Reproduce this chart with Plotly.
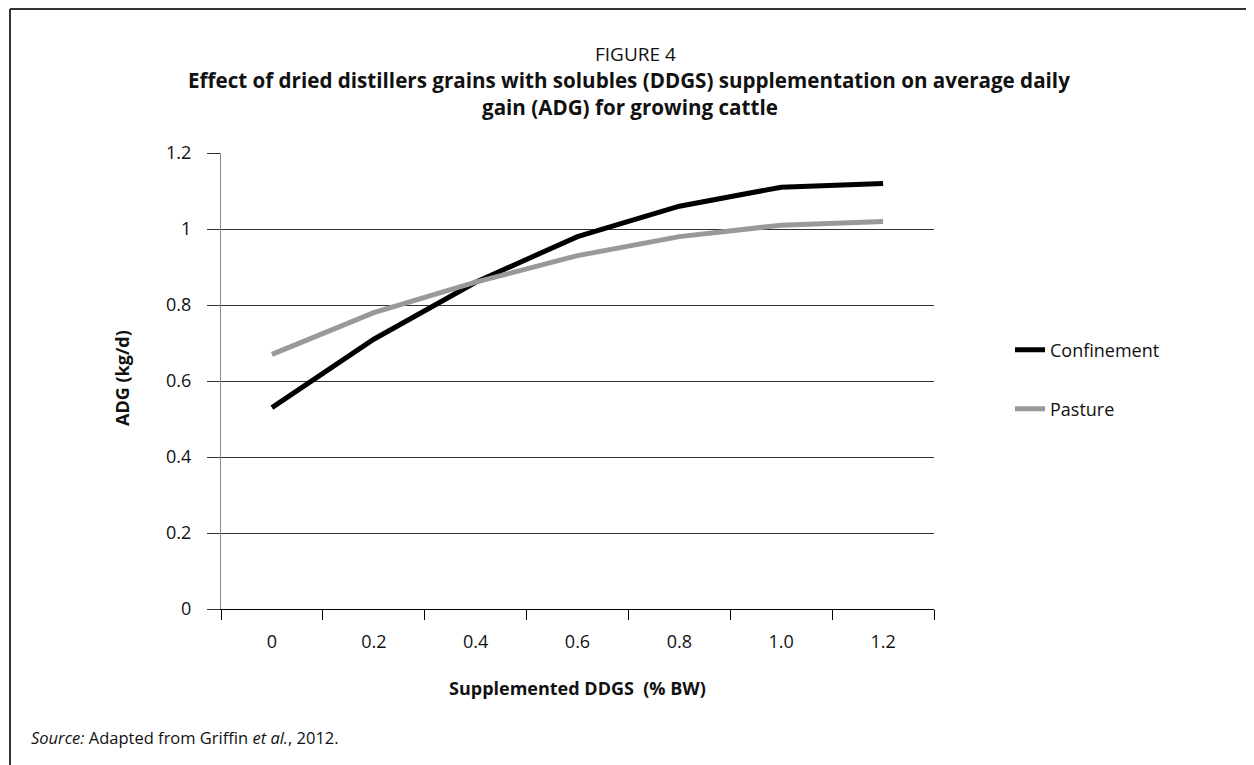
import plotly.graph_objects as go

categories = ["0", "0.2", "0.4", "0.6", "0.8", "1.0", "1.2"]
confinement = [0.53, 0.71, 0.86, 0.98, 1.06, 1.11, 1.12]
pasture = [0.67, 0.78, 0.86, 0.93, 0.98, 1.01, 1.02]
y_ticks = [0, 0.2, 0.4, 0.6, 0.8, 1.0, 1.2]
y_ticklabels = ["0", "0.2", "0.4", "0.6", "0.8", "1", "1.2"]

FONT = "Open Sans"

# page body margin offset (8px) compensated
OFF = 8
W, H = 1254 - OFF, 765 - OFF
# plot area in page pixels
X0, X1, Y0, Y1 = 221, 934, 153, 609
L, T = X0 - OFF, Y0 - OFF
R, B = (1254 - OFF) - (X1 - OFF), (765 - OFF) - (Y1 - OFF)


def px(x):
    return (x - X0) / (X1 - X0)


def py(y):
    return (Y1 - y) / (Y1 - Y0)


fig = go.Figure()
fig.add_trace(go.Scatter(
    x=categories, y=confinement, mode="lines", name="Confinement",
    line=dict(color="#000000", width=5), legend="legend",
))
fig.add_trace(go.Scatter(
    x=categories, y=pasture, mode="lines", name="Pasture",
    line=dict(color="#999999", width=5), legend="legend2",
))

fig.update_layout(
    width=W, height=H,
    margin=dict(l=L, r=R, t=T, b=B),
    paper_bgcolor="white", plot_bgcolor="white",
    font=dict(family=FONT, size=18, color="#111111"),
    showlegend=True,
    legend=dict(x=px(1010), y=py(350), xanchor="left", yanchor="middle",
                font=dict(size=18, family=FONT), bgcolor="rgba(0,0,0,0)"),
    legend2=dict(x=px(1010), y=py(409), xanchor="left", yanchor="middle",
                 font=dict(size=18, family=FONT), bgcolor="rgba(0,0,0,0)"),
    xaxis=dict(
        type="category", range=[-0.5, 6.5], tickson="boundaries", ticks="outside", ticklen=10,
        tickcolor="#000000", showline=True, linecolor="#000000", linewidth=1,
        showgrid=False, zeroline=False, tickfont=dict(size=18, family=FONT),
        ticklabelstandoff=16,
    ),
    yaxis=dict(
        range=[0, 1.2], tickvals=y_ticks, ticktext=y_ticklabels,
        ticks="outside", ticklen=13, tickcolor="#333333",
        showgrid=True, gridcolor="#333333", gridwidth=1,
        showline=True, linecolor="#888888", linewidth=1, zeroline=False,
        tickfont=dict(size=18, family=FONT), ticklabelstandoff=12,
    ),
)

annotations = [
    dict(text="FIGURE 4", x=px(635), y=py(54), font=dict(size=19)),
    dict(text="<b>Effect of dried distillers grains with solubles (DDGS) supplementation on average daily</b>",
         x=px(629), y=py(80), font=dict(size=20.6)),
    dict(text="<b>gain (ADG) for growing cattle</b>", x=px(630), y=py(107), font=dict(size=20.6)),
    dict(text="<b>Supplemented DDGS  (% BW)</b>", x=0.5, y=py(688), font=dict(size=18)),
    dict(text="<b>ADG (kg/d)</b>", x=px(122), y=py(378), textangle=-90, font=dict(size=18)),
    dict(text="<i>Source:</i> Adapted from Griffin <i>et al.</i>, 2012.", x=px(29), y=py(737),
         xanchor="left", font=dict(size=16.5)),
]
for a in annotations:
    a.setdefault("xanchor", "center")
    fig.add_annotation(xref="paper", yref="paper", showarrow=False, yanchor="middle",
                       **a)

# frame lines (top and left)
fig.add_shape(type="line", xref="paper", yref="paper", x0=px(10), x1=px(1260), y0=py(9), y1=py(9),
              line=dict(color="#333333", width=2))
fig.add_shape(type="line", xref="paper", yref="paper", x0=px(10), x1=px(10), y0=py(9), y1=py(770),
              line=dict(color="#333333", width=2))

fig.write_html("out.html")
